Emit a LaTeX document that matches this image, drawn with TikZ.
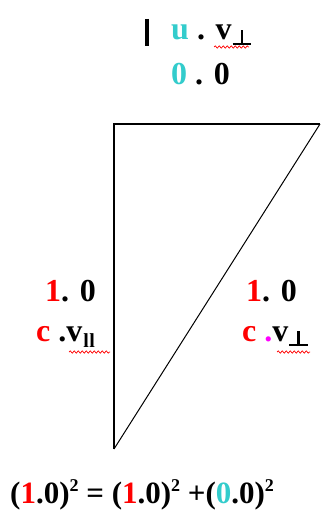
\documentclass[tikz,border=0pt]{standalone}
\usepackage{fontspec}
\setmainfont{Liberation Serif}
\usetikzlibrary{decorations.pathmorphing}
\definecolor{myred}{RGB}{255,0,0}
\definecolor{mycyan}{RGB}{51,204,204}
\definecolor{mymag}{RGB}{255,0,255}
\newcommand{\perpsub}{\kern1pt\raisebox{-5pt}{\rlap{\kern8pt\rule{2.6pt}{15pt}}\rule{18.6pt}{2.4pt}}\kern1pt}
\newcommand{\parsub}{\kern1pt\raisebox{-6pt}{\fontsize{20}{20}\selectfont\bfseries l\kern0.5pt l}}
\newcommand{\sqr}{\raisebox{12pt}{\fontsize{18}{18}\selectfont\bfseries 2}}
\tikzset{
  lbl/.style={font=\fontsize{32}{32}\selectfont\bfseries, inner sep=0pt, anchor=base west},
  eqlbl/.style={font=\fontsize{31}{31}\selectfont\bfseries, inner sep=0pt, anchor=base west},
  squig/.style={myred, line width=0.7pt, decorate, decoration={snake, segment length=4pt, amplitude=1.2pt}},
  edgeA/.style={line width=1.8pt},
  edgeB/.style={line width=1pt}
}
\begin{document}
\begin{tikzpicture}[x=1pt,y=-1pt]
\useasboundingbox (0,0) rectangle (322,513);
\fill[white] (0,0) rectangle (322,513);
% triangle
\coordinate (A) at (114,124);
\coordinate (B) at (320,124);
\coordinate (C) at (114,449);
\draw[edgeA] (C) -- (A) -- (B);
\draw[edgeB] (B) -- (C);
% cursor bar
\coordinate (bar1) at (147,19);
\coordinate (bar2) at (147,46);
\draw[line width=3.2pt] (bar1) -- (bar2);
% top labels
\node[lbl] (t1) at (171,40) {\textcolor{mycyan}{u} . v\perpsub};
\coordinate (s1a) at (214,47); \coordinate (s1b) at (249,47);
\draw[squig] (s1a) -- (s1b);
\node[lbl] (t2) at (171,85) {\textcolor{mycyan}{0} . 0};
% left labels
\node[lbl] (l1) at (45,301) {\textcolor{myred}{1}. 0};
\node[lbl] (l2) at (36,341) {\textcolor{myred}{c} .v\parsub};
\coordinate (s2a) at (69,352); \coordinate (s2b) at (110,352);
\draw[squig] (s2a) -- (s2b);
% right labels
\node[lbl] (r1) at (246,301) {\textcolor{myred}{1}. 0};
\node[lbl] (r2) at (242,341) {\textcolor{myred}{c} \textcolor{mymag}{.}v\perpsub};
\coordinate (s3a) at (277,352); \coordinate (s3b) at (310,352);
\draw[squig] (s3a) -- (s3b);
% equation
\node[eqlbl] (eq) at (10,503) {(\textcolor{myred}{1}.0)\sqr{} = (\textcolor{myred}{1}.0)\sqr{} +(\textcolor{mycyan}{0}.0)\sqr};
\end{tikzpicture}
\end{document}
